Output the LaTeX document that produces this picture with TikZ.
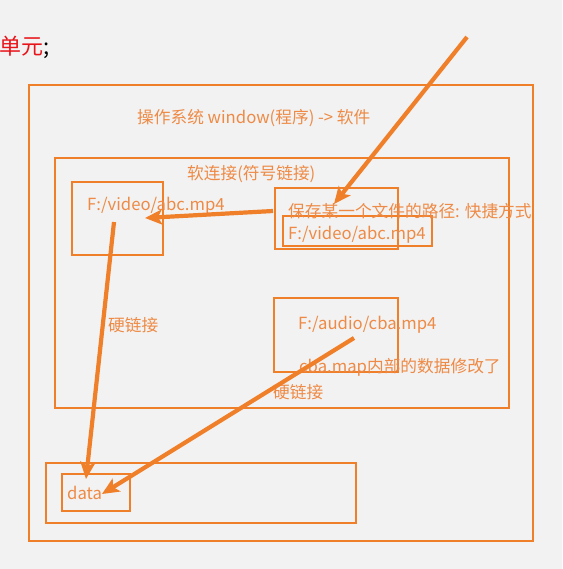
\documentclass[tikz,border=0pt]{standalone}
\usepackage{fontspec}
\setmainfont{Noto Sans CJK SC}
\usetikzlibrary{arrows.meta}
\definecolor{bg}{HTML}{F2F2F2}
\definecolor{org}{HTML}{F07F2A}
\definecolor{txt}{HTML}{EE8A45}
\definecolor{redt}{HTML}{E8141A}
\tikzset{
  box/.style={draw=org, line width=1.9pt},
  lbl/.style={text=txt, font=\fontsize{16.7}{16.7}\selectfont, inner sep=0pt, anchor=base west},
  bigarrow/.style={draw=org, line width=4.2pt, -{Stealth[length=17pt,width=15pt,inset=4pt]}},
}
\begin{document}
\begin{tikzpicture}[x=1pt,y=-1pt]
\fill[bg] (0,0) rectangle (562,569);
\useasboundingbox (0,0) rectangle (562,569);
% heading fragment
\node[inner sep=0pt, anchor=base west, font=\fontsize{22}{22}\selectfont] (head) at (-1,55) {\textcolor{redt}{单元};};
% boxes
\draw[box] (29,85) rectangle (533,541);
\draw[box] (55,158) rectangle (509,408);
\draw[box] (72,182) rectangle (163,255);
\draw[box] (275,188) rectangle (398,249);
\draw[box] (283,216) rectangle (432,246);
\draw[box] (274,298) rectangle (398,372);
\draw[box] (46,463) rectangle (356,523);
\draw[box] (62,474) rectangle (130,511);
% texts
\node[lbl] (os) at (137,124) {操作系统 window(程序) -> 软件};
\node[lbl] (soft) at (187,180) {软连接(符号链接)};
\node[lbl] (video) at (87,210) {F:/video/abc.mp4};
\node[lbl] (save) at (288,217) {保存某一个文件的路径: 快捷方式};
\node[lbl] (video2) at (288,239) {F:/video/abc.mp4};
\node[lbl] (hard1) at (108,331) {硬链接};
\node[lbl] (audio) at (298,329) {F:/audio/cba.mp4};
\node[lbl] (mod) at (299,372) {cba.map内部的数据修改了};
\node[lbl] (hard2) at (273,398) {硬链接};
\node[lbl] (data) at (67,499) {data};
% arrow endpoints
\coordinate (a1s) at (467,37);
\coordinate (a1e) at (334,204);
\coordinate (a2s) at (273,211);
\coordinate (a2e) at (145,218);
\coordinate (a3s) at (114,222);
\coordinate (a3e) at (86,479);
\coordinate (a4s) at (354,338);
\coordinate (a4e) at (102,494);
\draw[bigarrow] (a1s) -- (a1e);
\draw[bigarrow] (a2s) -- (a2e);
\draw[bigarrow] (a3s) -- (a3e);
\draw[bigarrow] (a4s) -- (a4e);
\end{tikzpicture}
\end{document}
